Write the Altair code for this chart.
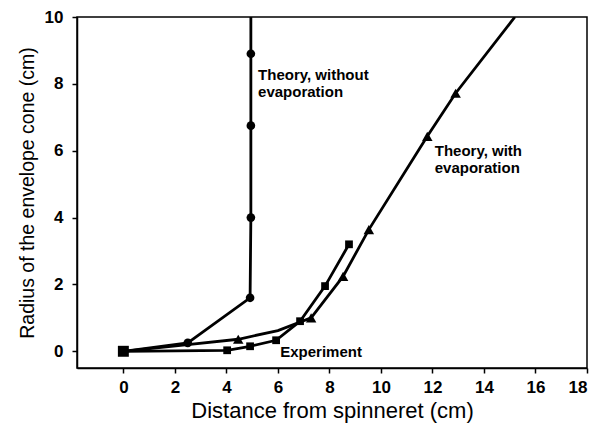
import altair as alt
import pandas as pd

# Theory, without evaporation (circles)
noevap_x = [0, 2.5, 4.92, 4.95, 4.95, 4.95, 4.95]
noevap_y = [0, 0.25, 1.6, 4.0, 6.75, 8.9, 10.0]
noevap_m = [False, True, True, True, True, True, False]

# Theory, with evaporation (triangles)
evap_x = [0, 2.5, 4.46, 6.0, 7.29, 8.53, 9.53, 11.8, 12.9, 15.2]
evap_y = [0, 0.2, 0.36, 0.62, 1.0, 2.24, 3.64, 6.43, 7.72, 10.0]
evap_m = [False, False, True, False, True, True, True, True, True, False]

# Experiment (squares)
exp_x = [0, 4.03, 4.92, 5.93, 6.86, 7.83, 8.76]
exp_y = [0, 0.03, 0.15, 0.33, 0.9, 1.95, 3.2]
exp_m = [True, True, True, True, True, True, True]

x_ticks = [0, 2, 4, 6, 8, 10, 12, 14, 16, 18]
y_ticks = [0, 2, 4, 6, 8, 10]

labels_text = [["Theory, without", "evaporation"], ["Theory, with", "evaporation"], ["Experiment"]]
labels_x = [5.23, 12.09, 6.09]
labels_y = [8.27, 5.98, -0.03]

rows = []
for name, xs, ys, ms, shape, sz in [
    ("noevap", noevap_x, noevap_y, noevap_m, "circle", 75),
    ("evap", evap_x, evap_y, evap_m, "triangle-up", 110),
    ("exp", exp_x, exp_y, exp_m, "square", 60),
]:
    for i, (x, y, m) in enumerate(zip(xs, ys, ms)):
        s = 120 if (name == "exp" and i == 0) else sz
        rows.append({"series": name, "x": x, "y": y, "marker": m, "shape": shape,
                     "size": s, "order": i})
df = pd.DataFrame(rows)

lab = pd.DataFrame({"text": labels_text, "x": labels_x, "y": labels_y})

FONT = "Liberation Sans"

xscale = alt.Scale(domain=[-1.8, 18], nice=False, zero=False)
yscale = alt.Scale(domain=[-0.5, 10], nice=False, zero=False)

xaxis = alt.Axis(values=x_ticks, title="Distance from spinneret (cm)", grid=False,
                 tickSize=5, tickColor="black", tickWidth=1.5, domainColor="black", domainWidth=1.5,
                 labelFont=FONT, labelFontSize=17, labelFontWeight="bold", labelColor="black",
                 labelPadding=6, titleFont=FONT, titleFontSize=22, titleFontWeight="normal",
                 titleColor="black", titlePadding=5)
yaxis = alt.Axis(values=y_ticks, title="Radius of the envelope cone (cm)", grid=False,
                 tickSize=5, tickColor="black", tickWidth=1.5, domainColor="black", domainWidth=1.5,
                 labelFont=FONT, labelFontSize=17, labelFontWeight="bold", labelColor="black",
                 labelPadding=9, titleFont=FONT, titleFontSize=19.5, titleFontWeight="normal",
                 titleColor="black", titlePadding=7)

base = alt.Chart(df)

lines = base.mark_line(color="black", strokeWidth=2.8, clip=True).encode(
    x=alt.X("x:Q", scale=xscale, axis=xaxis),
    y=alt.Y("y:Q", scale=yscale, axis=yaxis),
    detail="series:N",
    order="order:Q",
)

points = base.transform_filter("datum.marker").mark_point(
    color="black", filled=True, opacity=1
).encode(
    x="x:Q",
    y="y:Q",
    shape=alt.Shape("shape:N", scale=None),
    size=alt.Size("size:Q", scale=None),
)

texts = alt.Chart(lab).mark_text(
    align="left", baseline="middle", font=FONT, fontSize=15, fontWeight="bold",
    color="black", lineHeight=17
).encode(x="x:Q", y="y:Q", text="text")

chart = alt.layer(lines, points, texts).properties(
    width=510, height=351,
    autosize=alt.AutoSizeParams(type="none"),
    padding={"left": 69, "top": 9, "right": 2, "bottom": 57},
    background="white",
).configure_view(stroke="black", strokeWidth=1.5)

chart.save("out.html", embed_options={"renderer": "svg", "actions": False})
